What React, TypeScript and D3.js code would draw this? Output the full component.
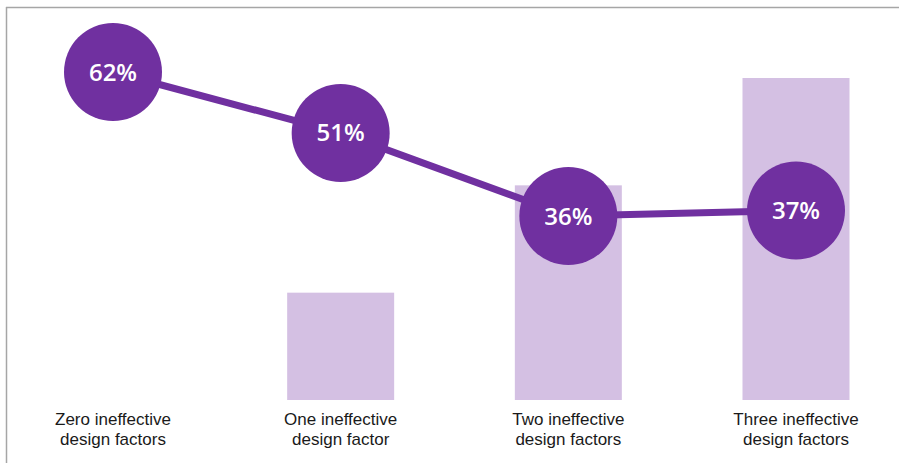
import React from "react";
import * as d3 from "d3";

const categories = [
  ["Zero ineffective", "design factors"],
  ["One ineffective", "design factor"],
  ["Two ineffective", "design factors"],
  ["Three ineffective", "design factors"],
];
const barValues = [0, 1, 2, 3];
const lineValues = [62, 51, 36, 37];
const lineLabels = ["62%", "51%", "36%", "37%"];

const W = 899;
const H = 463;

export default function App() {
  const keys = categories.map((c) => c.join(" "));
  const x = d3.scalePoint<string>().domain(keys).range([113, 796]);
  const barW = 107;
  const yBar = d3.scaleLinear().domain([0, 3]).range([400, 78]);
  const yLine = d3.scaleLinear().domain([36, 62]).range([216, 72]);
  const pts: [number, number][] = lineValues.map((v, i) => [x(keys[i])!, yLine(v)]);
  const line = d3.line()(pts) || "";
  return (
    <svg
      width={W}
      height={H}
      style={{ position: "absolute", left: 0, top: 0, display: "block", background: "#fff" }}
    >
      <line x1={6} y1={7.5} x2={W} y2={7.5} stroke="#a6a6a6" strokeWidth={1.5} />
      <line x1={6.5} y1={7} x2={6.5} y2={H} stroke="#a6a6a6" strokeWidth={1.5} />
      {barValues.map((v, i) =>
        v > 0 ? (
          <rect
            key={i}
            x={x(keys[i])! - barW / 2}
            y={yBar(v)}
            width={barW}
            height={yBar(0) - yBar(v)}
            fill="#d4c0e3"
          />
        ) : null
      )}
      <path d={line} fill="none" stroke="#7030a0" strokeWidth={7} />
      {pts.map(([cx, cy], i) => (
        <g key={i}>
          <circle cx={cx} cy={cy} r={49} fill="#7030a0" />
          <text
            x={cx}
            y={cy + 8.5}
            textAnchor="middle"
            fill="#fff"
            fontFamily="'Open Sans', sans-serif"
            fontWeight={600}
            fontSize={24}
          >
            {lineLabels[i]}
          </text>
        </g>
      ))}
      {categories.map((c, i) => (
        <text
          key={i}
          x={x(keys[i])}
          textAnchor="middle"
          fill="#1a1a1a"
          fontFamily="'Liberation Sans', Arial, sans-serif"
          fontSize={17}
        >
          <tspan x={x(keys[i])} y={425}>{c[0]}</tspan>
          <tspan x={x(keys[i])} y={445}>{c[1]}</tspan>
        </text>
      ))}
    </svg>
  );
}
